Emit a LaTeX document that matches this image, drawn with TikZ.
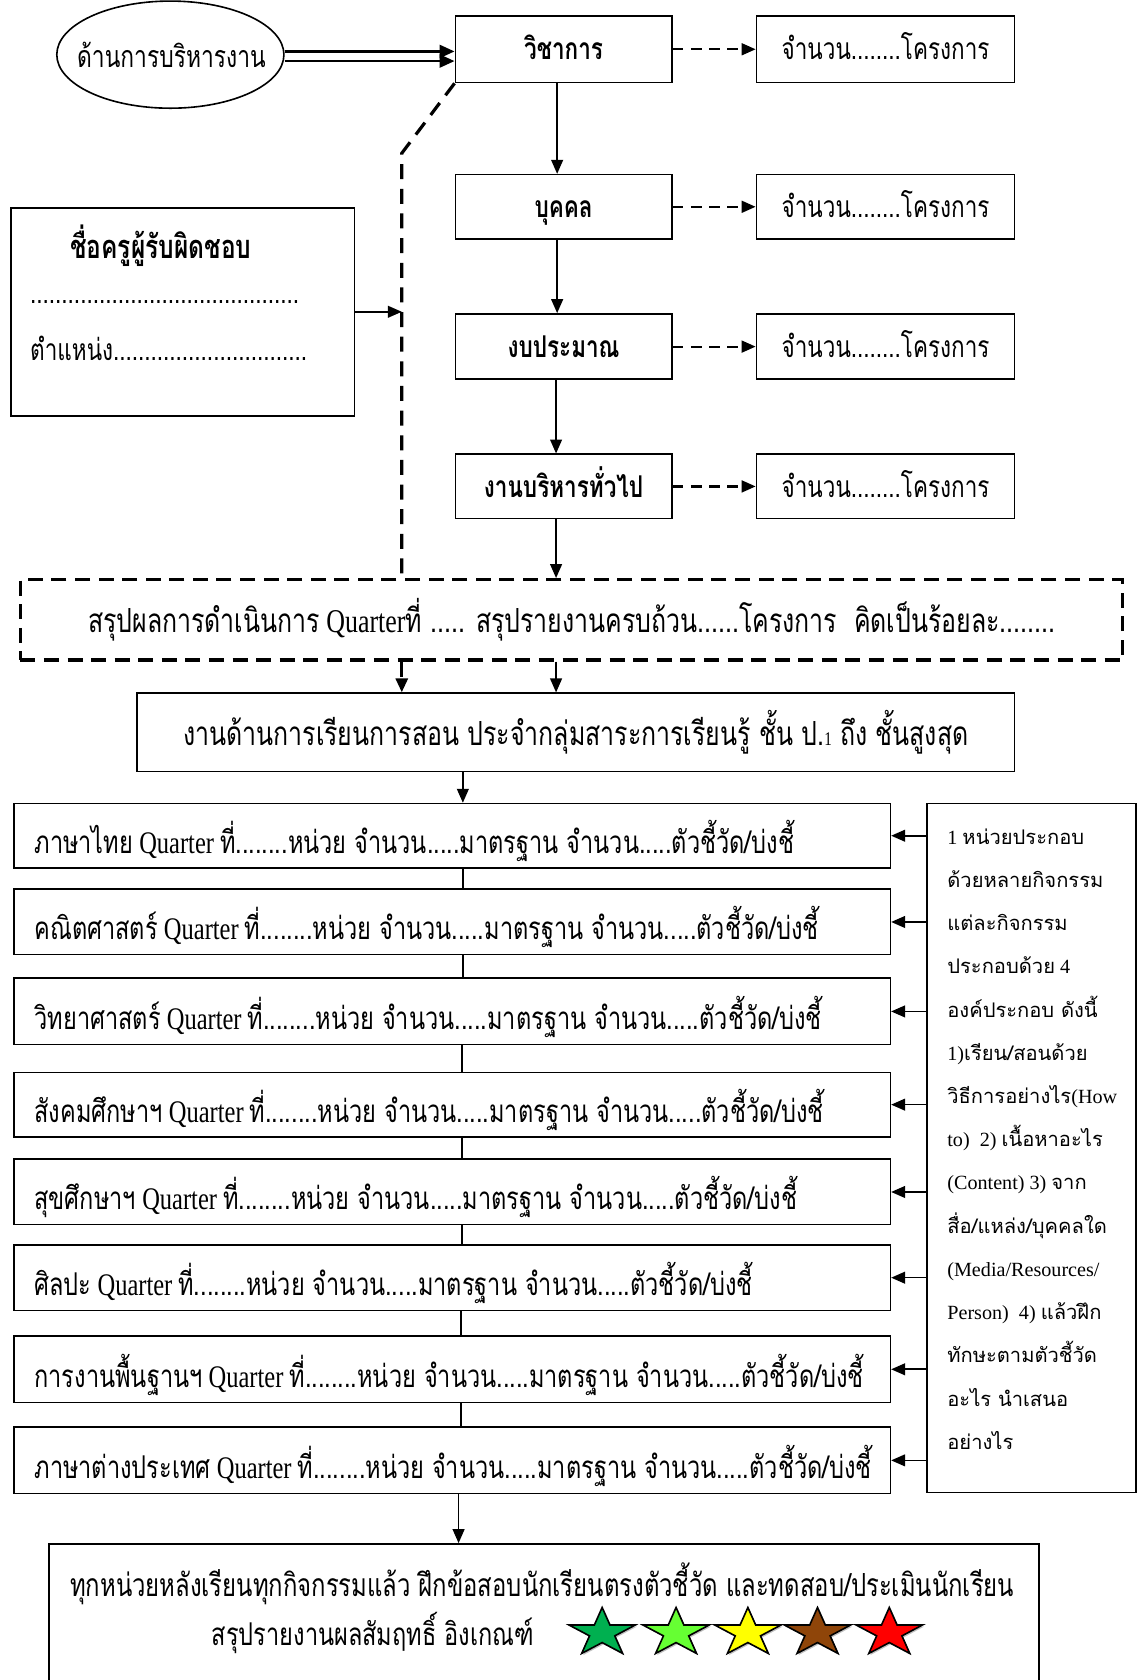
\documentclass[tikz,border=0pt]{standalone}
\usepackage{fontspec}
\setmainfont{Liberation Serif}[FakeStretch=0.78]
\newfontfamily\thn{Loma}[Script=Thai,FakeStretch=0.75]
\newfontfamily\thw{Loma}[Script=Thai]
\newfontfamily\latw{Liberation Serif}
\newcommand\T[1]{{\thn #1}}
\newcommand\W[1]{{\thw #1}}
\newcommand\rowtxt[1]{\T{#1} Quarter \T{ที่........หน่วย จำนวน.....มาตรฐาน จำนวน.....ตัวชี้วัด/บ่งชี้}}
\newcommand\bx[7]{\node[#6, minimum width={(#4-#2)*1pt}, minimum height={(#5-#3)*1pt}] (#1) at ({(#2+#4)/2},{(#3+#5)/2}) {#7};}
\usetikzlibrary{arrows.meta,shapes.geometric,shadows}
\definecolor{sgreen}{HTML}{00B050}
\definecolor{slgreen}{HTML}{66FF33}
\definecolor{syellow}{HTML}{FFFF00}
\definecolor{sbrown}{HTML}{8F4509}
\definecolor{sred}{HTML}{FF0000}
\tikzset{
  box/.style={draw, line width=1.5pt, rectangle, inner sep=0pt},
  dbox/.style={draw, line width=3pt, dash pattern=on 14pt off 8pt, rectangle, inner sep=0pt},
  arr/.style={line width=1.5pt, -{Triangle[length=13pt,width=11pt]}},
  darr/.style={line width=2pt, dash pattern=on 10pt off 7pt, -{Triangle[length=13pt,width=11pt]}},
  dline/.style={line width=3pt, dash pattern=on 14pt off 9pt},
  dlarr/.style={dline, -{Triangle[length=13pt,width=11pt]}},
  big/.style={font=\fontsize{29.3}{34}\selectfont},
  mid/.style={font=\fontsize{28}{32}\selectfont, text height=23pt, text depth=3pt},
  bbig/.style={font=\bfseries\fontsize{28}{32}\selectfont, text height=23pt, text depth=3pt},
  rtxt/.style={font=\latw\fontsize{18.8}{40.36}\selectfont, align=left, inner sep=0pt},
  starn/.style={star, star points=5, star point ratio=2.618, minimum size=47.4pt, inner sep=0pt,
    draw, line width=1.5pt, xscale=1.37, transform shape,
    drop shadow={shadow xshift=1.5pt, shadow yshift=-1.5pt, fill=gray!50, opacity=1}},
}
\begin{document}
\begin{tikzpicture}[x=1pt,y=-1pt]
\useasboundingbox (0,0) rectangle (1062,1568);
\clip (0,0) rectangle (1062,1568);
% top section
\node[draw, ellipse, line width=1.5pt, minimum width=212pt, minimum height=100pt, inner sep=0pt] (ell) at (159,51) {};
\node[font=\fontsize{28.4}{32}\selectfont] (ellt) at (160,51) {\T{ด้านการบริหารงาน}};
\bx{vc}{425}{15}{627}{77}{box,bbig}{\T{วิชาการ}}
\bx{n1}{706}{15}{947}{77}{box,mid}{\T{จำนวน........โครงการ}}
\bx{bk}{425}{163}{627}{223}{box,bbig}{\T{บุคคล}}
\bx{n2}{706}{163}{947}{223}{box,mid}{\T{จำนวน........โครงการ}}
\bx{bp}{425}{293}{627}{354}{box,bbig}{\T{งบประมาณ}}
\bx{n3}{706}{293}{947}{354}{box,mid}{\T{จำนวน........โครงการ}}
\bx{ga}{425}{424}{627}{484}{box,bbig}{\T{งานบริหารทั่วไป}}
\bx{n4}{706}{424}{947}{484}{box,mid}{\T{จำนวน........โครงการ}}
% teacher box
\bx{teach}{10}{194}{331}{388}{box}{}
\node[font=\bfseries\fontsize{30.5}{34}\selectfont] (tt1) at (150,229) {\T{ชื่อครูผู้รับผิดชอบ}};
\node[font=\fontsize{28}{32}\selectfont, anchor=west, inner sep=0pt] (tt2) at (28,282) {\T{...........................................}};
\node[font=\fontsize{28}{32}\selectfont, anchor=west, inner sep=0pt] (tt3) at (28,325) {\T{ตำแหน่ง...............................}};
% summary dashed box
\bx{dash}{19}{541}{1048}{616}{dbox,font=\fontsize{31}{36}\selectfont}{\T{สรุปผลการดำเนินการ} Quarter\T{ที่ ..... สรุปรายงานครบถ้วน......โครงการ~ คิดเป็นร้อยละ........}}
\bx{lrn}{128}{647}{947}{720}{box,font=\fontsize{31}{36}\selectfont}{\T{งานด้านการเรียนการสอน ประจำกลุ่มสาระการเรียนรู้ ชั้น ป.}{\fontsize{18}{20}\selectfont 1}\T{ ถึง ชั้นสูงสุด}}
% rows
\bx{r1}{13}{750}{831}{810}{box}{}
\bx{r2}{13}{830}{831}{891}{box}{}
\bx{r3}{13}{913}{831}{975}{box}{}
\bx{r4}{13}{1001}{831}{1061}{box}{}
\bx{r5}{13}{1082}{831}{1143}{box}{}
\bx{r6}{13}{1162}{831}{1223}{box}{}
\bx{r7}{13}{1247}{831}{1309}{box}{}
\bx{r8}{13}{1332}{831}{1394}{box}{}
\node[big, anchor=west, inner sep=0pt] (r1t) at (32,785) {\rowtxt{ภาษาไทย}};
\node[big, anchor=west, inner sep=0pt] (r2t) at (32,865) {\rowtxt{คณิตศาสตร์}};
\node[big, anchor=west, inner sep=0pt] (r3t) at (32,949) {\rowtxt{วิทยาศาสตร์}};
\node[big, anchor=west, inner sep=0pt] (r4t) at (32,1036) {\rowtxt{สังคมศึกษาฯ}};
\node[big, anchor=west, inner sep=0pt] (r5t) at (32,1117) {\rowtxt{สุขศึกษาฯ}};
\node[big, anchor=west, inner sep=0pt] (r6t) at (32,1197) {\rowtxt{ศิลปะ}};
\node[big, anchor=west, inner sep=0pt] (r7t) at (32,1283) {\rowtxt{การงานพื้นฐานฯ}};
\node[big, anchor=west, inner sep=0pt] (r8t) at (32,1368) {\rowtxt{ภาษาต่างประเทศ}};
% right note box
\bx{note}{865}{750}{1060}{1393}{box}{}
\node[rtxt, anchor=north west] (notet) at (884,773) {%
1 \W{หน่วยประกอบ}\\
\W{ด้วยหลายกิจกรรม}\\
\W{แต่ละกิจกรรม}\\
\W{ประกอบด้วย} 4\\
\W{องค์ประกอบ ดังนี้}\\
1)\W{เรียน/สอนด้วย}\\
\W{วิธีการอย่างไร}(How\\
to)\ \ 2) \W{เนื้อหาอะไร}\\
(Content) 3) \W{จาก}\\
\W{สื่อ/แหล่ง/บุคคลใด}\\
(Media/Resources/\\
Person)\ \ 4) \W{แล้วฝึก}\\
\W{ทักษะตามตัวชี้วัด}\\
\W{อะไร นำเสนอ}\\
\W{อย่างไร}};
% bottom box
\bx{fin}{46}{1441}{970}{1610}{box}{}
\node[font=\fontsize{29.7}{34}\selectfont] (fint1) at (506,1478) {\T{ทุกหน่วยหลังเรียนทุกกิจกรรมแล้ว ฝึกข้อสอบนักเรียนตรงตัวชี้วัด และทดสอบ/ประเมินนักเรียน}};
\node[big] (fint2) at (348,1524) {\T{สรุปรายงานผลสัมฤทธิ์ อิงเกณฑ์}};
\node[starn, fill=sgreen] (s1) at (562,1524) {};
\node[starn, fill=slgreen] (s2) at (631,1524) {};
\node[starn, fill=syellow] (s3) at (698,1524) {};
\node[starn, fill=sbrown] (s4) at (763,1524) {};
\node[starn, fill=sred] (s5) at (830,1524) {};
% connectors
\coordinate (c1) at (375,143);
\draw[line width=2.5pt, -{Triangle[length=14pt,width=12pt]}] ([yshift=3pt]ell.east) -- ([yshift=3pt]ell.east -| vc.west);
\draw[line width=2.5pt, -{Triangle[length=14pt,width=12pt]}] ([yshift=-6pt]ell.east) -- ([yshift=-6pt]ell.east -| vc.west);
\draw[darr] (vc) -- (n1);
\draw[darr] (bk) -- (n2);
\draw[darr] (bp) -- (n3);
\draw[darr] (ga) -- (n4);
\draw[arr] ([xshift=-6pt]vc.south) -- ([xshift=-6pt]bk.north);
\draw[arr] ([xshift=-6pt]bk.south) -- ([xshift=-6pt]bp.north);
\draw[arr] ([xshift=-7pt]bp.south) -- ([xshift=-7pt]ga.north);
\draw[arr] ([xshift=-7pt]ga.south) -- ([xshift=-7pt]ga.south |- dash.north);
\draw[arr] ([xshift=-7pt]ga.south |- dash.south) -- ([xshift=-7pt]ga.south |- lrn.north);
\draw[dline] (vc.south west) -- (c1) -- (c1 |- dash.north);
\draw[dlarr] (c1 |- dash.south) -- (c1 |- lrn.north);
\draw[arr] (teach.east) -- (teach.east -| c1);
\draw[arr] ([xshift=10pt]r1.north |- lrn.south) -- ([xshift=10pt]r1.north);
\draw[line width=1.5pt] ([xshift=10pt]r1.south) -- ([xshift=10pt]r2.north);
\draw[line width=1.5pt] ([xshift=10pt]r2.south) -- ([xshift=10pt]r3.north);
\draw[line width=1.5pt] ([xshift=9pt]r3.south) -- ([xshift=9pt]r4.north);
\draw[line width=1.5pt] ([xshift=9pt]r4.south) -- ([xshift=9pt]r5.north);
\draw[line width=1.5pt] ([xshift=9pt]r5.south) -- ([xshift=9pt]r6.north);
\draw[line width=1.5pt] ([xshift=8pt]r6.south) -- ([xshift=8pt]r7.north);
\draw[line width=1.5pt] ([xshift=8pt]r7.south) -- ([xshift=8pt]r8.north);
\draw[arr] ([xshift=6pt]r8.south) -- ([xshift=6pt]r8.south |- fin.north);
\foreach \rr in {r1,r2,r3,r4,r5,r6,r7,r8}{
  \draw[arr] (note.west |- \rr.east) -- (\rr.east);
}
\end{tikzpicture}
\end{document}
